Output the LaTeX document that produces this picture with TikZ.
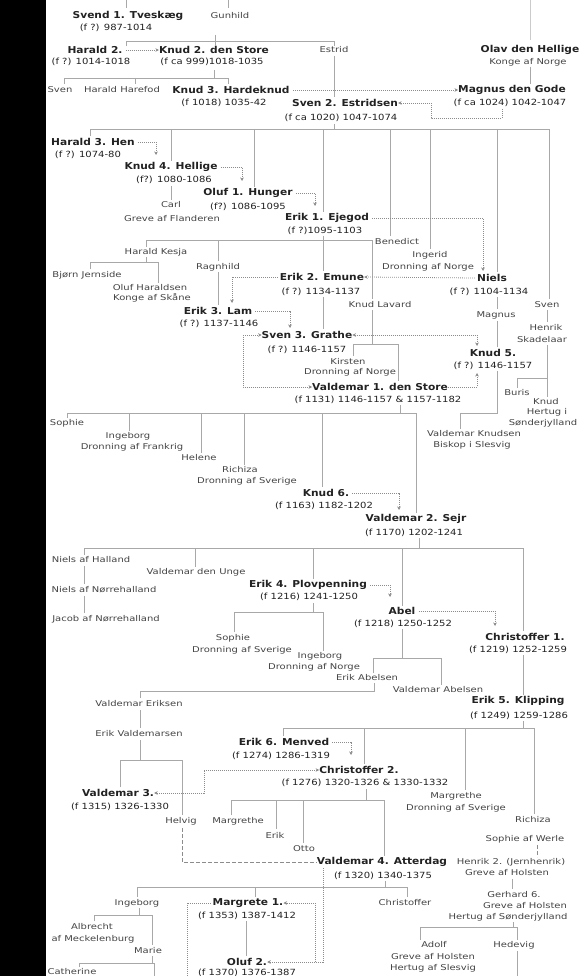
\documentclass[tikz,border=0pt]{standalone}
\usepackage{fontspec}
\setmainfont{DejaVu Sans}
\newfontfamily\kgfam[FakeStretch=1.12]{DejaVu Sans}
\newfontfamily\kdfam[FakeStretch=1.18]{DejaVu Sans}
\newfontfamily\klfam[FakeStretch=1.25]{DejaVu Sans}
\usetikzlibrary{arrows.meta}
\newcommand\kgfont{\kgfam\bfseries\fontsize{9.5}{11}\selectfont}
\newcommand\kdfont{\kdfam\fontsize{8.5}{10}\selectfont}
\newcommand\klfont{\klfam\fontsize{8}{9}\selectfont}
\definecolor{lncol}{HTML}{A8A8A8}
\definecolor{dotcol}{HTML}{8C8C8C}
\definecolor{txcol}{HTML}{222222}
\definecolor{lbcol}{HTML}{444444}
\tikzset{
  nm/.style={font=\kgfont, text=txcol, inner sep=0pt},
  dt/.style={font=\kdfont, text=txcol, inner sep=0pt},
  lb/.style={font=\klfont, text=lbcol, inner sep=0pt},
  ln/.style={draw=lncol, line width=0.9pt},
  succ/.style={draw=dotcol, line width=0.8pt, dash pattern=on 0.8pt off 1.2pt},
  tip/.style={-{Stealth[length=3.5pt,width=3.5pt]}},
  bitip/.style={{Stealth[length=3.5pt,width=3.5pt]}-{Stealth[length=3.5pt,width=3.5pt]}},
  wife/.style={draw=dotcol, line width=0.8pt, dash pattern=on 4pt off 2pt}
}
\begin{document}
\begin{tikzpicture}[x=1pt,y=-1pt]
\useasboundingbox (0,0) rectangle (587,976);
\fill[white] (0,0) rectangle (587,976);
\fill[black] (0,0) rectangle (46,976);

% ---------- bold names ----------
\node[nm] (svend1) at (128,16) {Svend 1. Tveskæg};
\node[nm] (harald2) at (95,50) {Harald 2.};
\node[nm] (knud2) at (214,50) {Knud 2. den Store};
\node[nm] (olav) at (530,50) {Olav den Hellige};
\node[nm] (knud3) at (231,90) {Knud 3. Hardeknud};
\node[nm] (magnus) at (512,90) {Magnus den Gode};
\node[nm] (sven2) at (345,103) {Sven 2. Estridsen};
\node[nm] (harald3) at (93,142) {Harald 3. Hen};
\node[nm] (knud4) at (171,167) {Knud 4. Hellige};
\node[nm] (oluf1) at (248,193) {Oluf 1. Hunger};
\node[nm] (erik1) at (327,218) {Erik 1. Ejegod};
\node[nm] (erik2) at (322,277) {Erik 2. Emune};
\node[nm] (niels) at (492,278) {Niels};
\node[nm] (erik3) at (218,311) {Erik 3. Lam};
\node[nm] (sven3) at (307,335) {Sven 3. Grathe};
\node[nm] (knud5) at (493,353) {Knud 5.};
\node[nm] (valdemar1) at (380,387) {Valdemar 1. den Store};
\node[nm] (knud6) at (326,493) {Knud 6.};
\node[nm] (valdemar2) at (416,519) {Valdemar 2. Sejr};
\node[nm] (erik4) at (308,585) {Erik 4. Plovpenning};
\node[nm] (abel) at (402,611) {Abel};
\node[nm] (christoffer1) at (525,637) {Christoffer 1.};
\node[nm] (erik5) at (518,701) {Erik 5. Klipping};
\node[nm] (erik6) at (284,742) {Erik 6. Menved};
\node[nm] (christoffer2) at (359,770) {Christoffer 2.};
\node[nm] (valdemar3) at (118,793) {Valdemar 3.};
\node[nm] (valdemar4) at (382,862) {Valdemar 4. Atterdag};
\node[nm] (margrete1) at (248,903) {Margrete 1.};
\node[nm] (oluf2) at (247,962) {Oluf 2.};

% ---------- dates ----------
\node[dt] (dsvend1) at (116,28) {(f ?) 987-1014};
\node[dt] (dharald2) at (91,62) {(f ?) 1014-1018};
\node[dt] (dknud2) at (212,62) {(f ca 999)1018-1035};
\node[dt] (dknud3) at (224,103) {(f 1018) 1035-42};
\node[dt] (dsven2) at (341,118) {(f ca 1020) 1047-1074};
\node[dt] (dmagnus) at (510,103) {(f ca 1024) 1042-1047};
\node[dt] (dharald3) at (88,155) {(f ?) 1074-80};
\node[dt] (dknud4) at (174,180) {(f?) 1080-1086};
\node[dt] (doluf1) at (248,207) {(f?) 1086-1095};
\node[dt] (derik1) at (325,231) {(f ?)1095-1103};
\node[dt] (derik2) at (321,292) {(f ?) 1134-1137};
\node[dt] (dniels) at (489,292) {(f ?) 1104-1134};
\node[dt] (derik3) at (219,324) {(f ?) 1137-1146};
\node[dt] (dsven3) at (307,350) {(f ?) 1146-1157};
\node[dt] (dknud5) at (493,366) {(f ?) 1146-1157};
\node[dt] (dvaldemar1) at (378,400) {(f 1131) 1146-1157 \& 1157-1182};
\node[dt] (dknud6) at (324,506) {(f 1163) 1182-1202};
\node[dt] (dvaldemar2) at (414,533) {(f 1170) 1202-1241};
\node[dt] (derik4) at (309,597) {(f 1216) 1241-1250};
\node[dt] (dabel) at (403,624) {(f 1218) 1250-1252};
\node[dt] (dchristoffer1) at (518,650) {(f 1219) 1252-1259};
\node[dt] (derik5) at (519,716) {(f 1249) 1259-1286};
\node[dt] (derik6) at (281,756) {(f 1274) 1286-1319};
\node[dt] (dchristoffer2) at (365,783) {(f 1276) 1320-1326 \& 1330-1332};
\node[dt] (dvaldemar3) at (120,807) {(f 1315) 1326-1330};
\node[dt] (dvaldemar4) at (383,876) {(f 1320) 1340-1375};
\node[dt] (dmargrete1) at (247,916) {(f 1353) 1387-1412};
\node[dt] (doluf2) at (247,973) {(f 1370) 1376-1387};

% ---------- plain labels ----------
\node[lb] (gunhild) at (230,16) {Gunhild};
\node[lb] (estrid) at (334,50) {Estrid};
\node[lb] (olavk) at (528,62) {Konge af Norge};
\node[lb] (svenA) at (60,90) {Sven};
\node[lb] (haraldH) at (122,90) {Harald Harefod};
\node[lb] (carl) at (171,205) {Carl};
\node[lb] (carl2) at (172,219) {Greve af Flanderen};
\node[lb] (benedict) at (397,242) {Benedict};
\node[lb] (ingerid) at (430,255) {Ingerid};
\node[lb] (ingerid2) at (428,267) {Dronning af Norge};
\node[lb] (haraldK) at (156,252) {Harald Kesja};
\node[lb] (ragnhild) at (218,267) {Ragnhild};
\node[lb] (bjorn) at (87,275) {Bjørn Jernside};
\node[lb] (olufH) at (150,288) {Oluf Haraldsen};
\node[lb] (olufH2) at (152,298) {Konge af Skåne};
\node[lb] (knudL) at (380,305) {Knud Lavard};
\node[lb] (svenB) at (547,305) {Sven};
\node[lb] (magnusB) at (496,315) {Magnus};
\node[lb] (henrik) at (546,328) {Henrik};
\node[lb] (henrikS) at (542,340) {Skadelaar};
\node[lb] (kirsten) at (348,362) {Kirsten};
\node[lb] (kirsten2) at (350,372) {Dronning af Norge};
\node[lb] (buris) at (517,393) {Buris};
\node[lb] (knudH) at (546,402) {Knud};
\node[lb] (knudH2) at (547,412) {Hertug i};
\node[lb] (knudH3) at (543,423) {Sønderjylland};
\node[lb] (valdK) at (474,434) {Valdemar Knudsen};
\node[lb] (valdK2) at (472,445) {Biskop i Slesvig};
\node[lb] (sophieA) at (67,423) {Sophie};
\node[lb] (ingeborgA) at (128,436) {Ingeborg};
\node[lb] (ingeborgA2) at (132,447) {Dronning af Frankrig};
\node[lb] (helene) at (199,458) {Helene};
\node[lb] (richizaA) at (240,470) {Richiza};
\node[lb] (richizaA2) at (247,481) {Dronning af Sverige};
\node[lb] (nielsH) at (91,560) {Niels af Halland};
\node[lb] (valdU) at (196,572) {Valdemar den Unge};
\node[lb] (nielsN) at (104,590) {Niels af Nørrehalland};
\node[lb] (jacob) at (106,619) {Jacob af Nørrehalland};
\node[lb] (sophieB) at (233,638) {Sophie};
\node[lb] (sophieB2) at (242,650) {Dronning af Sverige};
\node[lb] (ingeborgB) at (320,656) {Ingeborg};
\node[lb] (ingeborgB2) at (314,667) {Dronning af Norge};
\node[lb] (erikA) at (367,678) {Erik Abelsen};
\node[lb] (valdA) at (438,690) {Valdemar Abelsen};
\node[lb] (valdE) at (139,704) {Valdemar Eriksen};
\node[lb] (erikV) at (139,734) {Erik Valdemarsen};
\node[lb] (helvig) at (181,821) {Helvig};
\node[lb] (margretheA) at (238,821) {Margrethe};
\node[lb] (erikC) at (275,835) {Erik};
\node[lb] (otto) at (304,849) {Otto};
\node[lb] (margretheB) at (456,796) {Margrethe};
\node[lb] (margretheB2) at (456,808) {Dronning af Sverige};
\node[lb] (richizaB) at (533,820) {Richiza};
\node[lb] (sophieW) at (525,839) {Sophie af Werle};
\node[lb] (henrikJ) at (511,862) {Henrik 2. (Jernhenrik)};
\node[lb] (henrikJ2) at (507,873) {Greve af Holsten};
\node[lb] (gerhard) at (514,895) {Gerhard 6.};
\node[lb] (gerhard2) at (525,906) {Greve af Holsten};
\node[lb] (gerhard3) at (508,917) {Hertug af Sønderjylland};
\node[lb] (christofferC) at (405,903) {Christoffer};
\node[lb] (ingeborgC) at (137,903) {Ingeborg};
\node[lb] (albrecht) at (92,927) {Albrecht};
\node[lb] (albrecht2) at (93,939) {af Meckelenburg};
\node[lb] (marie) at (148,951) {Marie};
\node[lb] (catherine) at (72,972) {Catherine};
\node[lb] (adolf) at (434,945) {Adolf};
\node[lb] (adolf2) at (433,957) {Greve af Holsten};
\node[lb] (adolf3) at (433,968) {Hertug af Slesvig};
\node[lb] (hedevig) at (514,945) {Hedevig};

% ---------- family lines ----------
\draw[ln] (126,0) -- (126,8);
\draw[ln] (228,0) -- (228,8);
\draw[ln, draw=lncol!60] (530,0) -- (530,40);
\draw[ln] (215,35) -- (215,46);
\draw[ln] (126,46) |- (334,41) -- (334,46);
\draw[ln] (214,70) -- (214,78);
\draw[ln] (64,84) |- (228,78) -- (228,84);
\draw[ln] (135,78) -- (135,84);
\draw[ln] (334,56) -- (334,97);
\draw[ln] (530,67) -- (530,84);
% Sven 2 children
\draw[ln] (334,124) -- (334,129);
\draw[ln] (90,136) |- (549,129) -- (549,299);
\draw[ln] (171,129) -- (171,161);
\draw[ln] (171,186) -- (171,200);
\draw[ln] (254,129) -- (254,187);
\draw[ln] (323,129) -- (323,212);
\draw[ln] (390,129) -- (390,236);
\draw[ln] (430,129) -- (430,249);
\draw[ln] (497,129) -- (497,272);
% Erik 1 children
\draw[ln] (323,236) -- (323,271);
\draw[ln] (146,247) |- (372,240) -- (372,299);
\draw[ln] (218,240) -- (218,261);
\draw[ln] (146,257) -- (146,262);
\draw[ln] (90,269) |- (158,262) -- (158,283);
\draw[ln] (218,272) -- (218,305);
\draw[ln] (323,297) -- (323,329);
\draw[ln] (497,297) -- (497,309);
\draw[ln] (497,321) -- (497,347);
\draw[ln] (547,310) -- (547,322);
\draw[ln] (547,345) -- (547,397);
\draw[ln] (547,378) -| (517,388);
\draw[ln] (372,310) -- (372,344);
\draw[ln] (353,356) |- (398,344) -- (398,381);
\draw[ln] (497,371) |- (460,413) -- (460,429);
% Valdemar 1 children
\draw[ln] (400,405) -- (400,413);
\draw[ln] (67,418) |- (416,413) -- (416,513);
\draw[ln] (129,413) -- (129,431);
\draw[ln] (201,413) -- (201,453);
\draw[ln] (244,413) -- (244,465);
\draw[ln] (322,413) -- (322,487);
% Valdemar 2 children
\draw[ln] (419,538) -- (419,548);
\draw[ln] (84,555) |- (523,548) -- (523,631);
\draw[ln] (195,548) -- (195,567);
\draw[ln] (313,548) -- (313,579);
\draw[ln] (402,548) -- (402,606);
\draw[ln] (84,566) -- (84,584);
\draw[ln] (84,596) -- (84,613);
\draw[ln] (313,603) -- (313,612);
\draw[ln] (234,632) |- (323,612) -- (323,651);
\draw[ln] (402,629) -- (402,658);
\draw[ln] (373,673) |- (441,658) -- (441,685);
\draw[ln] (523,655) -- (523,695);
\draw[ln] (374,683) |- (140,691) -- (140,698);
\draw[ln] (140,710) -- (140,728);
\draw[ln] (140,740) -- (140,760);
\draw[ln] (120,787) |- (182,760) -- (182,815);
% Erik 5 children
\draw[ln] (523,721) -- (523,728);
\draw[ln] (283,736) |- (534,728) -- (534,814);
\draw[ln] (364,728) -- (364,764);
\draw[ln] (465,728) -- (465,790);
% Christoffer 2 children
\draw[ln] (366,789) -- (366,800);
\draw[ln] (231,815) |- (384,800) -- (384,856);
\draw[ln] (276,800) -- (276,829);
\draw[ln] (303,800) -- (303,843);
% Holsten
\draw[ln] (512,879) -- (512,889);
\draw[ln] (513,922) -- (513,927);
\draw[ln] (420,940) |- (517,927) -- (517,940);
\draw[ln] (517,951) -- (517,976);
% Valdemar 4 children
\draw[ln] (385,881) -- (385,887);
\draw[ln] (137,897) |- (407,887) -- (407,897);
\draw[ln] (255,887) -- (255,897);
\draw[ln] (139,908) -- (139,915);
\draw[ln] (94,921) |- (152,915) -- (152,945);
\draw[ln] (246,921) -- (246,956);
\draw[ln] (152,956) -- (152,963);
\draw[ln] (79,967) |- (154,963) -- (154,976);

% ---------- succession (dotted) ----------
\draw[succ,tip] (harald2.east) ++(3,0) -- (knud2.west);
\draw[succ,tip] (knud3.east) ++(3,0) -- (magnus.west);
\draw[succ,tip] (502,109) -- (502,118) -- (431,118) -- (431,103) -- (sven2.east);
\draw[succ,tip] (harald3.east) ++(3,0) -| (156,155);
\draw[succ,tip] (knud4.east) ++(3,0) -| (242,181);
\draw[succ,tip] (oluf1.east) ++(3,0) -| (315,206);
\draw[succ,tip] (erik1.east) ++(3,0) -| (483,271);
\draw[succ,tip] (niels.west) ++(-2,0) -- (erik2.east);
\draw[succ,tip] (erik2.west) ++(-2,0) -| (232,303);
\draw[succ,tip] (erik3.east) ++(3,0) -| (290,328);
\draw[succ,bitip] (sven3.east) -- (477,335) -- (477,346);
\draw[succ,bitip] (sven3.west) -- (243,335) |- (valdemar1.west);
\draw[succ,tip] (valdemar1.east) -| (477,373);
\draw[succ,tip] (knud6.east) ++(3,0) -| (399,510);
\draw[succ,tip] (erik4.east) ++(3,0) -| (390,597);
\draw[succ,tip] (abel.east) ++(3,0) -| (495,626);
\draw[succ,tip] (erik6.east) ++(3,0) -| (351,755);
\draw[succ,bitip] (christoffer2.west) -- (204,770) |- (valdemar3.east);
\draw[succ,tip] (323,868) |- (oluf2.east);
\draw[succ,tip] (315,962) |- (margrete1.east);
\draw[succ] (margrete1.west) ++(-2,0) -| (187,976);
\draw[wife] (182,828) |- (valdemar4.west);
\draw[wife] (537,845) -- (537,857);
\end{tikzpicture}
\end{document}
